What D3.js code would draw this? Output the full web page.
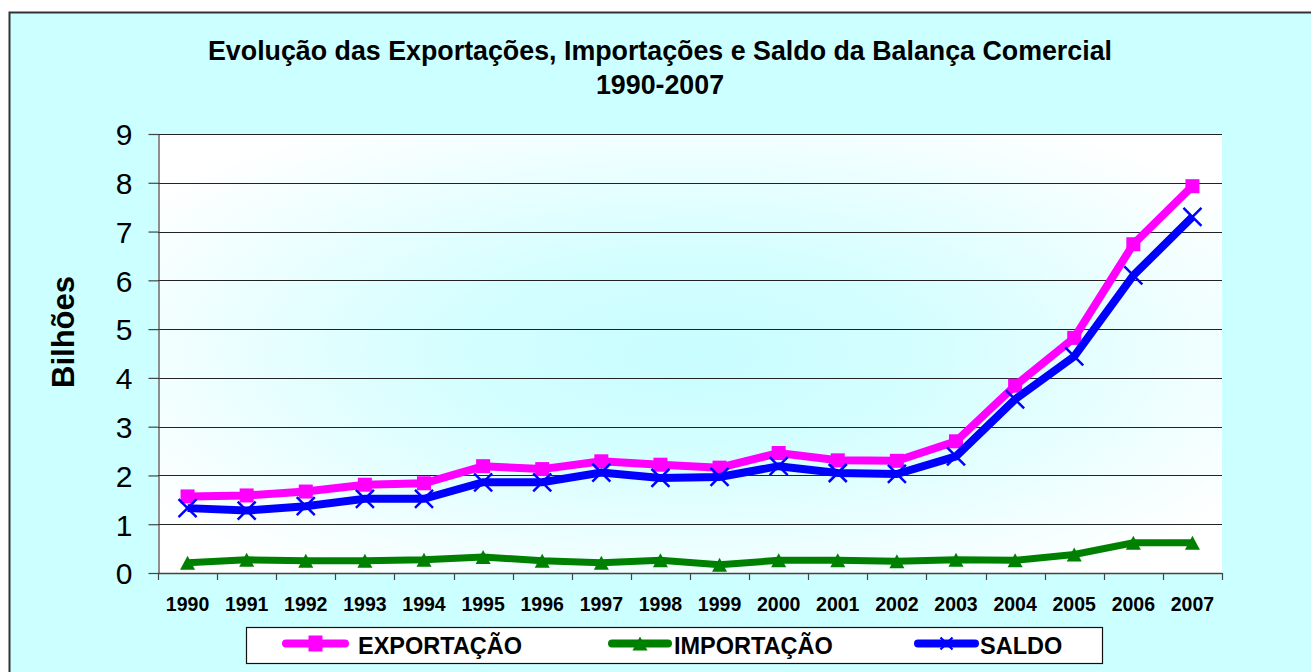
<!DOCTYPE html>
<html>
<head>
<meta charset="utf-8">
<script src="https://cdn.jsdelivr.net/npm/d3@7"></script>
<style>
  html, body { margin: 0; padding: 0; background: #ffffff; }
  svg { display: block; }
  text { font-family: "Liberation Sans", Arial, sans-serif; }
</style>
</head>
<body>
<svg id="chart" width="1311" height="672"></svg>
<script>
// ---- data ----
const years = ["1990","1991","1992","1993","1994","1995","1996","1997","1998","1999","2000","2001","2002","2003","2004","2005","2006","2007"];
const exportacao = [1.57,1.59,1.67,1.81,1.84,2.19,2.13,2.29,2.22,2.16,2.46,2.31,2.30,2.70,3.84,4.82,6.74,7.93];
const importacao = [0.21,0.27,0.25,0.25,0.27,0.33,0.25,0.21,0.26,0.17,0.26,0.26,0.24,0.27,0.26,0.38,0.62,0.62];
const saldo      = [1.33,1.28,1.37,1.52,1.52,1.86,1.86,2.06,1.95,1.97,2.19,2.05,2.03,2.39,3.56,4.44,6.10,7.30];
const yTicks = [0,1,2,3,4,5,6,7,8,9];
const titleLines = ["Evolução das Exportações, Importações e Saldo da Balança Comercial", "1990-2007"];
const yTitle = "Bilhões";
const seriesNames = ["EXPORTAÇÃO","IMPORTAÇÃO","SALDO"];

// ---- layout ----
const svg = d3.select("#chart");
const plot = {left:158, right:1222, top:134, bottom:573};

// chart area background
svg.append("rect").attr("x",9.5).attr("y",12.5).attr("width",1400).attr("height",700)
  .attr("fill","#CCFFFF").attr("stroke","#333").attr("stroke-width",2);

// plot gradient
const defs = svg.append("defs");
const grad = defs.append("radialGradient").attr("id","pg")
  .attr("cx","0.5").attr("cy","0.5").attr("r","0.62").attr("fx","0.5").attr("fy","0.5");
grad.append("stop").attr("offset","0").attr("stop-color","#C8FDFF");
grad.append("stop").attr("offset","0.35").attr("stop-color","#D4FEFF");
grad.append("stop").attr("offset","1").attr("stop-color","#FFFFFF");

svg.append("rect").attr("x",plot.left).attr("y",plot.top)
  .attr("width",plot.right-plot.left).attr("height",plot.bottom-plot.top)
  .attr("fill","url(#pg)");

const x = d3.scaleBand().domain(years).range([plot.left, plot.right]).padding(0);
const y = d3.scaleLinear().domain([0,9]).range([plot.bottom, plot.top]);
const cx = d => x(d) + x.bandwidth()/2;

// gridlines
svg.append("g").selectAll("line").data(yTicks.filter(v=>v>0)).join("line")
  .attr("x1",plot.left).attr("x2",plot.right)
  .attr("y1",d=>Math.round(y(d))+0.5).attr("y2",d=>Math.round(y(d))+0.5)
  .attr("stroke","#222").attr("stroke-width",1.2);

// y axis
const yAxis = d3.axisLeft(y).tickValues(yTicks).tickSize(10).tickSizeOuter(0).tickPadding(16).tickFormat(d3.format("d"));
const gy = svg.append("g").attr("transform",`translate(${plot.left+0.5},0)`).call(yAxis);
gy.select(".domain").attr("stroke","#444").attr("stroke-width",1.2);
gy.selectAll(".tick line").attr("stroke","#444").attr("stroke-width",1.2);
gy.selectAll(".tick text").attr("font-size",30).attr("fill","#000")
  .attr("font-family","Liberation Sans, Arial, sans-serif").attr("dy","0.36em");

// x axis: line + boundary ticks + labels
const gx = svg.append("g");
gx.append("line").attr("x1",plot.left).attr("x2",plot.right)
  .attr("y1",plot.bottom+0.5).attr("y2",plot.bottom+0.5).attr("stroke","#444").attr("stroke-width",1.5);
const bounds = years.map(d=>x(d)).concat([x(years[years.length-1]) + x.bandwidth()]);
gx.selectAll("line.tk").data(bounds).join("line").attr("class","tk")
  .attr("x1",d=>Math.round(d)+0.5).attr("x2",d=>Math.round(d)+0.5)
  .attr("y1",plot.bottom).attr("y2",plot.bottom+7).attr("stroke","#444").attr("stroke-width",1.2);
gx.selectAll("text").data(years).join("text")
  .attr("x",d=>cx(d)).attr("y",611).attr("text-anchor","middle")
  .attr("font-size",19.5).attr("font-weight","bold").attr("fill","#000").text(d=>d);

// title
svg.append("text").attr("x",660).attr("y",60).attr("text-anchor","middle")
  .attr("font-size",26.8).attr("font-weight","bold").text(titleLines[0]);
svg.append("text").attr("x",660).attr("y",94).attr("text-anchor","middle")
  .attr("font-size",26.8).attr("font-weight","bold").text(titleLines[1]);

// y title
svg.append("text").attr("transform","translate(74,332) rotate(-90)").attr("text-anchor","middle")
  .attr("font-size",31).attr("font-weight","bold").text(yTitle);

// series
const line = d3.line().x((d,i)=>cx(years[i])).y(d=>y(d));
function drawSeries(vals, color, width, marker){
  const g = svg.append("g");
  g.append("path").datum(vals).attr("d",line).attr("fill","none")
    .attr("stroke",color).attr("stroke-width",width).attr("stroke-linejoin","miter");
  vals.forEach((v,i)=> marker(g, cx(years[i]), y(v)));
}
const square = (col,s)=> (g,px,py)=> g.append("rect").attr("x",px-s/2).attr("y",py-s/2).attr("width",s).attr("height",s).attr("fill",col);
const tri = (col,w,h)=> (g,px,py)=> g.append("path").attr("d",`M${px},${py-h/2}L${px+w/2},${py+h/2}L${px-w/2},${py+h/2}Z`).attr("fill",col);
const cross = (col,s,sw)=> (g,px,py)=> g.append("path").attr("d",`M${px-s},${py-s}L${px+s},${py+s}M${px-s},${py+s}L${px+s},${py-s}`).attr("stroke",col).attr("stroke-width",sw).attr("fill","none");

drawSeries(importacao, "#008000", 7, tri("#008000",15,14));
drawSeries(exportacao, "#FF00FF", 8, square("#FF00FF",14));
drawSeries(saldo, "#0000FF", 8, cross("#0000FF",9,2.5));

// legend
const lg = svg.append("g");
lg.append("rect").attr("x",246.5).attr("y",627.5).attr("width",856).attr("height",36)
  .attr("fill","#fff").attr("stroke","#111").attr("stroke-width",1.2);
const legendItems = [
  {name:seriesNames[0], col:"#FF00FF", x1:286, x2:345, tx:358, mk:(g,px,py)=>g.append("rect").attr("x",px-7).attr("y",py-8).attr("width",14).attr("height",16).attr("fill","#FF00FF")},
  {name:seriesNames[1], col:"#008000", x1:612, x2:668, tx:674, mk:tri("#008000",15,14)},
  {name:seriesNames[2], col:"#0000FF", x1:918, x2:975, tx:980, mk:cross("#0000FF",6,2.2)}
];
legendItems.forEach(it=>{
  const ly = 643.5;
  lg.append("line").attr("x1",it.x1).attr("x2",it.x2).attr("y1",ly).attr("y2",ly)
    .attr("stroke",it.col).attr("stroke-width",8).attr("stroke-linecap","round");
  it.mk(lg,(it.x1+it.x2)/2,ly);
  lg.append("text").attr("x",it.tx).attr("y",654).attr("font-size",23.5).attr("font-weight","bold").text(it.name);
});
</script>
</body>
</html>
